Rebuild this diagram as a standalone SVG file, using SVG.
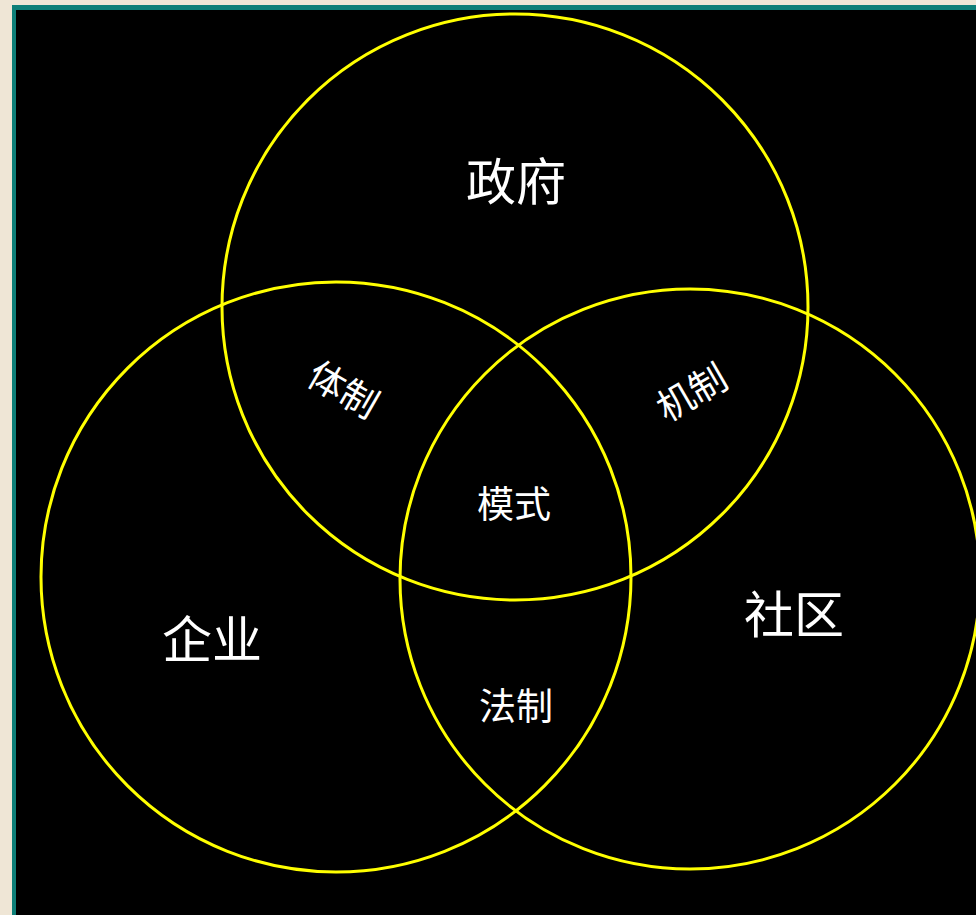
<svg xmlns="http://www.w3.org/2000/svg" width="976" height="915" viewBox="0 0 976 915">
<style>
.c{fill:none;stroke:#ffff00;stroke-width:3}
.t{fill:#ffffff;font-family:"Noto Sans CJK SC","Noto Sans CJK JP",sans-serif;text-anchor:middle}
.b{font-size:50px}
.s{font-size:37px}
</style>
<rect x="0" y="0" width="976" height="915" fill="#efe6d6"/>
<rect x="12" y="5" width="964" height="910" fill="#0e7f78"/>
<rect x="16" y="10" width="960" height="905" fill="#000000"/>
<g id="connectors"></g>
<g id="gov"><circle class="c" cx="515" cy="307" r="293"/><text class="t b" x="516" y="200">政府</text></g>
<g id="ent"><circle class="c" cx="336" cy="577" r="295"/><text class="t b" x="212" y="658">企业</text></g>
<g id="com"><circle class="c" cx="690" cy="579" r="290"/><text class="t b" x="794" y="633">社区</text></g>
<g id="tizhi"><text class="t s" transform="translate(343,390) rotate(30)" x="0" y="13">体制</text></g>
<g id="jizhi"><text class="t s" transform="translate(692,393) rotate(-30)" x="0" y="13">机制</text></g>
<g id="moshi"><text class="t s" x="514" y="518">模式</text></g>
<g id="fazhi"><text class="t s" x="516" y="720">法制</text></g>
</svg>
